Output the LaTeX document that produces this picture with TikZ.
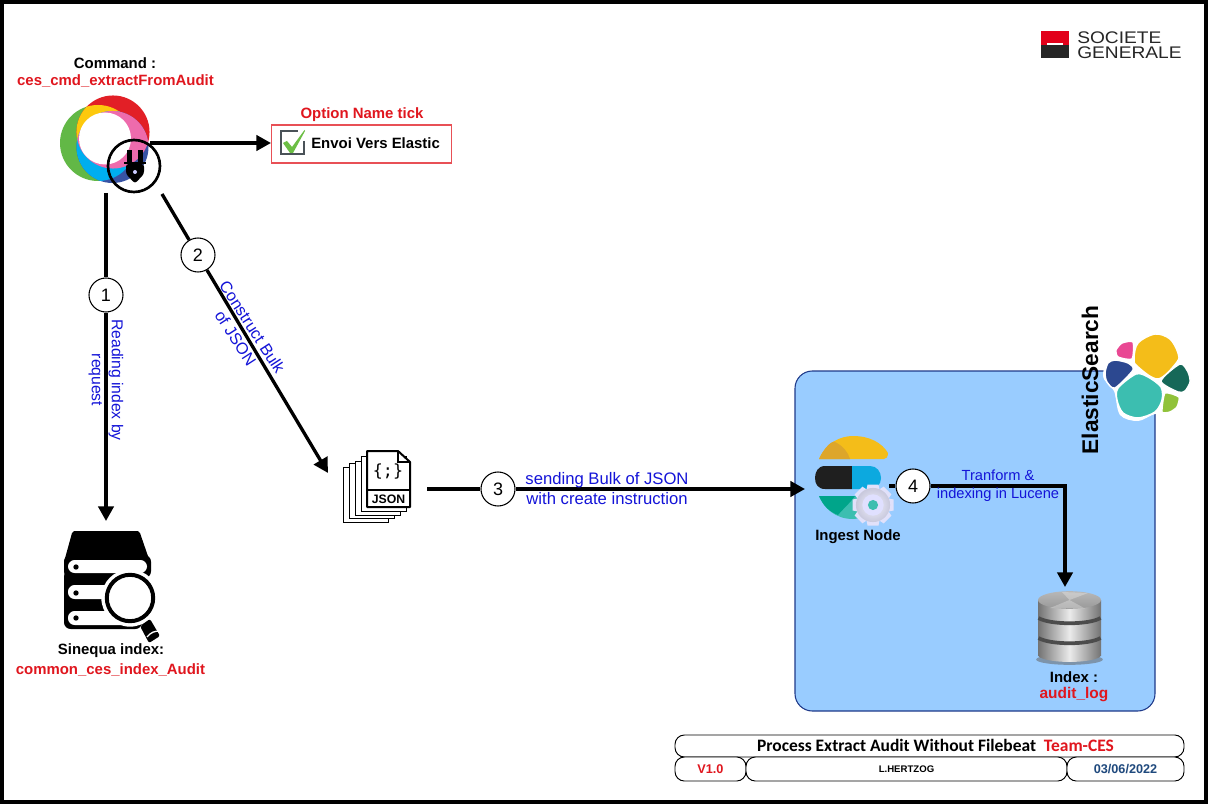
\documentclass[tikz,border=0pt]{standalone}
\usepackage{fontspec}
\setmainfont{Liberation Sans}
\newfontfamily\carlito{Carlito}
\newfontfamily\dejamono{DejaVu Sans Mono}
\usetikzlibrary{arrows.meta,calc}
\definecolor{lblblue}{HTML}{1414D8}
\definecolor{sgred}{HTML}{E2001A}
\definecolor{txtred}{HTML}{E0161E}
\definecolor{boxblue}{HTML}{99CCFF}
\definecolor{boxedge}{HTML}{1F3A8A}
\definecolor{datecol}{HTML}{1F497D}
\definecolor{rgreen}{HTML}{62B846}\definecolor{rred}{HTML}{E21F26}\definecolor{rblue}{HTML}{3853A4}
\definecolor{ryellow}{HTML}{FDC90D}\definecolor{rcyan}{HTML}{00AEEF}\definecolor{rpink}{HTML}{EE6BAC}
\definecolor{igold}{HTML}{F4BD19}\definecolor{igolddk}{HTML}{DDA62A}
\definecolor{icyan}{HTML}{0CA9DF}\definecolor{iteal}{HTML}{00A58A}\definecolor{itealb}{HTML}{3CBEB0}
\definecolor{esblue}{HTML}{2C4890}\definecolor{espink}{HTML}{E94893}\definecolor{esgreen}{HTML}{166858}\definecolor{eslime}{HTML}{90C23A}
\definecolor{tickgray}{HTML}{4A5258}\definecolor{tickgreen}{HTML}{6CBE45}
\tikzset{
  x=0.75pt,y=-0.75pt,
  flow/.style={line width=2.5pt,black},
  arrowflow/.style={flow,-{Triangle[length=11pt,width=11.5pt]}},
  numbered/.style={circle,draw=black,line width=0.8pt,fill=white,minimum size=25.5pt,inner sep=0pt,font=\fontsize{13.5}{15}\selectfont},
  blacklbl/.style={font=\fontsize{11.2}{13}\selectfont\bfseries,text=black,inner sep=0pt},
  redlbl/.style={font=\fontsize{11.2}{13}\selectfont\bfseries,text=txtred,inner sep=0pt},
  bluelbl/.style={font=\fontsize{12.2}{15}\selectfont,text=lblblue,align=center,inner sep=0pt},
  cell/.style={draw=black,line width=0.7pt,rounded corners=7pt,fill=white},
  sheet/.style={draw=black,line width=0.7pt,fill=white},
  disc/.style={left color=black!55,right color=black!55,middle color=black!8},
  blob/.style={draw=white,line width=1.1pt},
  sgtext/.style={anchor=west,inner sep=0pt,xscale=1.14,transform shape,font=\fontsize{12.6}{14}\selectfont,text=black!85},
}
\begin{document}
\begin{tikzpicture}
\useasboundingbox (0,0) rectangle (1209,805);
\fill[white] (0,0) rectangle (1209,805);
\draw[black,line width=3pt] (2,2) rectangle (1206,802);

% Societe Generale logo
\fill[sgred] (1041,31) rectangle (1069,45);
\fill[black!85] (1041,45) rectangle (1069,58.5);
\fill[white] (1047,43.5) rectangle (1063,45.5);
\node[sgtext] (sgone) at (1077,37.5) {SOCIETE};
\node[sgtext] (sgtwo) at (1077,52.5) {GENERALE};

% Command logo (rings)
\fill[rgreen] (98,143) circle[radius=28.5pt];
\fill[rred] (113,132) circle[radius=27.4pt];
\fill[rblue] (112.5,147) circle[radius=27pt];
\begin{scope}\clip (98,143) circle[radius=28.5pt];\fill[ryellow] (113,132) circle[radius=27.4pt];\fill[rcyan] (112.5,147) circle[radius=27pt];\end{scope}
\begin{scope}\clip (113,132) circle[radius=27.4pt];\fill[rpink] (112.5,147) circle[radius=27pt];\end{scope}
\fill[white] (105,138.5) circle[radius=19.5pt];
\node[circle,draw=black,line width=2pt,minimum size=39pt,inner sep=0pt] (plug) at (134,166) {};
% plug glyph
\fill[black] (127,150) rectangle (132,163);
\fill[black] (137.5,150) rectangle (143,163);
\fill[black] (124,162) rectangle (146,164.5);
\fill[black,rounded corners=2pt] (126,164) -- (144,164) -- (144,174) -- (135,183.5) -- (126,174) -- cycle;
\fill[white!80!blue] (135,172) circle[radius=1.5pt];

\node[blacklbl] (cmdone) at (115,63) {Command :};
\node[redlbl] (cmdtwo) at (115.5,81) {ces\_cmd\_extractFromAudit};

% Option box
\node[redlbl] (opttitle) at (362,115) {Option Name tick};
\node[draw=txtred!75,line width=0.8pt,fill=white,minimum width=135pt,minimum height=28.5pt,inner sep=0pt] (optbox) at (361.5,144) {};
\node[blacklbl,anchor=west] (optlbl) at (311,143) {Envoi Vers Elastic};
\draw[tickgray,line width=2pt] (304,141) -- (304,154) -- (281,154) -- (281,131) -- (298,131);
\fill[tickgreen] (283,143) -- (287,141) -- (292,147) -- (304.5,130) -- (305,131) -- (293,153) -- (290,153) -- cycle;

% Sinequa index icon
\fill[black] (72,533) -- ++(2,-2) -- (138,531) -- ++(2,2) -- (150,562) -- (64,562) -- cycle;
\fill[black,rounded corners=5pt] (64,555) rectangle (151,578);
\fill[black,rounded corners=5pt] (64,570) rectangle (125,620);
\fill[black,rounded corners=5pt] (64,600) rectangle (142,629);
\fill[white,rounded corners=5pt] (68,560) rectangle (147,573);
\fill[white,rounded corners=5pt] (68,585) rectangle (118,599);
\fill[white,rounded corners=5pt] (68,611) rectangle (135,625);
\fill[black] (76,567) circle[radius=2pt];
\fill[black] (76,593) circle[radius=2pt];
\fill[black] (76,618) circle[radius=2pt];
\fill[white] (130,598) circle[radius=21.5pt];
\draw[black,line width=3pt] (130,598) circle[radius=17.4pt];
\fill[black,rounded corners=1.5pt] (140,626) -- (150,619) -- (160,636) -- (149,643) -- cycle;
\draw[white,line width=1pt] (147,637) .. controls (151,632) and (155,631) .. (160,631);
\node[blacklbl] (sinone) at (111,651) {Sinequa index:};
\node[redlbl] (sintwo) at (110.5,670) {common\_ces\_index\_Audit};

% JSON stack
\draw[sheet] (343,467) rectangle (388,522);
\draw[sheet] (349,463) rectangle (394,518);
\draw[sheet] (355,461) rectangle (400,515);
\draw[sheet] (361,456) rectangle (406,511);
\draw[black,line width=1.5pt,fill=white,line join=round] (367,451) -- (398,451) -- (410,462) -- (410,507) -- (367,507) -- cycle;
\draw[black,line width=1.1pt] (398,451) -- (398,462) -- (410,462);
\draw[black,line width=1.5pt] (367,490) -- (410,490);
\node[inner sep=0pt,font=\dejamono\fontsize{12.5}{14}\selectfont] (jsonbraces) at (388,472) {\{;\}};
\node[inner sep=0pt,font=\fontsize{9.2}{10}\selectfont\bfseries] (jsonlbl) at (388.5,499) {JSON};

% Elastic box
\node[draw=boxedge,line width=0.8pt,fill=boxblue,rounded corners=13pt,minimum width=270pt,minimum height=255pt,inner sep=0pt] (esbox) at (975,541) {};

% ES logo
\fill[white] plot[smooth cycle,tension=0.55] coordinates {(1155,332) (1172,337) (1180,353) (1192,382) (1180,395) (1172,414) (1155,414) (1138,421) (1120,415) (1114,391) (1103,375) (1114,342) (1134,340)};
\path[blob,fill=igold] plot[smooth cycle,tension=0.55] coordinates {(1155,334) (1170,339) (1178,353) (1177,362) (1158,379) (1137,366) (1134,358) (1138,343)};
\path[blob,fill=itealb] plot[smooth cycle,tension=0.5] coordinates {(1136,374) (1148,377) (1161,387) (1162,400) (1155,412) (1138,418) (1123,413) (1117,400) (1118,388)};
\path[blob,fill=esblue] plot[smooth cycle,tension=0.45] coordinates {(1115,360) (1128,363) (1133,370) (1115,388) (1107,382) (1105,373) (1108,363)};
\path[blob,fill=espink] plot[smooth cycle,tension=0.4] coordinates {(1133,342) (1132,359) (1118,357) (1116,350) (1122,343)};
\path[blob,fill=esgreen] plot[smooth cycle,tension=0.45] coordinates {(1180,364) (1188,372) (1190,382) (1185,391) (1178,392) (1161,381)};
\path[blob,fill=eslime] plot[smooth cycle,tension=0.35] coordinates {(1165,393) (1179,397) (1177,407) (1170,412) (1162,412)};
\node[inner sep=0pt,rotate=90,font=\fontsize{17}{18}\selectfont\bfseries] (estitle) at (1090,380) {ElasticSearch};

% Ingest logo
\fill[igold] (819,459) .. controls (826,443) and (840,436) .. (853,436) .. controls (870,436) and (882,443) .. (888,453) .. controls (888,457) and (886,459) .. (884,459) -- cycle;
\fill[igolddk] (819,459) .. controls (824,448) and (832,440) .. (835,442) .. controls (843,446) and (848,452) .. (850,459) -- cycle;
\fill[black!88] (852,466) -- (825,466) .. controls (818,466) and (815,472) .. (815,478) .. controls (815,484) and (818,489) .. (825,489) -- (852,489) -- cycle;
\fill[icyan] (852,466) -- (870,466) .. controls (877,466) and (881,472) .. (881,478) .. controls (881,484) and (877,489) .. (870,489) -- (852,489) -- cycle;
\fill[itealb] (819,496) -- (880,496) .. controls (875,510) and (865,519) .. (853,519) .. controls (835,519) and (824,508) .. (819,496) -- cycle;
\fill[iteal] (819,496) -- (855,496) .. controls (850,503) and (842,510) .. (838,515) .. controls (828,511) and (823,505) .. (819,496) -- cycle;
% gear
\foreach \a in {0,45,...,315}{\fill[gray!30!blue!14!white,rotate around={\a:(873,505)}] (867.5,484.5) -- (878.5,484.5) -- (880,492) -- (866,492) -- cycle;}
\shade[inner color=white!95!blue,outer color=blue!22!gray!35!white] (873,505) circle[radius=12.8pt];
\fill[white!88!blue] (873,505) circle[radius=8pt];
\fill[itealb] (873,505) circle[radius=3.8pt];
\node[blacklbl] (ingest) at (858,537) {Ingest Node};

% DB cylinder
\fill[black!60,opacity=0.55] (1069.5,659.5) ellipse [x radius=25pt,y radius=4pt];
\shade[disc] (1038,600) rectangle (1101,655);
\shade[disc] (1069.5,655) ellipse [x radius=23.6pt,y radius=5.2pt];
\draw[black!70,line width=2.8pt] (1038.5,618) .. controls (1050,625) and (1089,625) .. (1100.5,618);
\draw[black!70,line width=2.8pt] (1038.5,638) .. controls (1050,645) and (1089,645) .. (1100.5,638);
\shade[top color=black!28,bottom color=black!40] (1069.5,600) ellipse [x radius=23.6pt,y radius=6.6pt];
\fill[white,opacity=0.28] (1069.5,600) -- (1050,608) -- (1085,608.5) -- cycle;
\fill[white,opacity=0.28] (1069.5,600) -- (1062,592) -- (1088,593) -- cycle;
\node[blacklbl] (dbone) at (1074,677) {Index :};
\node[redlbl,font=\fontsize{11.6}{13}\selectfont\bfseries] (dbtwo) at (1074,695) {audit\_log};

% Named connector ends
\coordinate (cmdright) at (150,143);
\coordinate (cmdstemA) at (106,193);
\coordinate (cmdstemB) at (162,194);
\coordinate (sineq) at (106,521);
\coordinate (jsonin) at (328,473);
\coordinate (jsonout) at (427,489);
\coordinate (ingestin) at (805,489);
\coordinate (ingestout) at (889,486);
\coordinate (dbtop) at (1065,587);
\coordinate (opttarget) at (271,143);

\node[numbered] (n1) at (106,295) {1};
\node[numbered] (n2) at (198,255) {2};
\node[numbered] (n3) at (498,489) {3};
\node[numbered] (n4) at (913,486) {4};

\draw[arrowflow] (cmdright) -- (opttarget);
\draw[flow] (cmdstemA) -- (n1);
\draw[arrowflow] (n1) -- (sineq);
\draw[flow] (cmdstemB) -- (n2);
\draw[arrowflow] (n2) -- (jsonin);
\draw[flow] (jsonout) -- (n3);
\draw[arrowflow] (n3) -- (ingestin);
\draw[flow] (ingestout) -- (n4);
\draw[arrowflow] (n4) -| (dbtop);

% Connector labels
\node[bluelbl,rotate=-90,font=\fontsize{11.8}{15}\selectfont] (l1) at (106,380) {Reading index by\\request};
\node[bluelbl,rotate=-57] (l2) at (244,332.5) {Construct Bulk\\of JSON};
\node[bluelbl,font=\fontsize{12.5}{15}\selectfont] (l3) at (607,489) {sending Bulk of JSON\\with create instruction};
\node[bluelbl,font=\fontsize{11}{13.5}\selectfont] (l4) at (998,486) {Tranform \&\\indexing in Lucene};

% Title block
\node[cell,minimum width=381.75pt,minimum height=16.5pt,inner sep=0pt] (ttl) at (929.5,746) {};
\node[inner sep=0pt,font=\carlito\fontsize{13.1}{14}\selectfont\bfseries] (ttltext) at (935.5,745.5) {Process Extract Audit Without Filebeat\hspace{0.45em}\textcolor{txtred}{Team-CES}};
\node[cell,minimum width=53.25pt,minimum height=18pt,inner sep=0pt,font=\fontsize{9.5}{11}\selectfont\bfseries,text=txtred] (ver) at (710.5,769) {V1.0};
\node[cell,minimum width=240.75pt,minimum height=18pt,inner sep=0pt,font=\fontsize{7.2}{8}\selectfont\bfseries] (author) at (906.5,769) {L.HERTZOG};
\node[cell,minimum width=87.75pt,minimum height=18pt,inner sep=0pt,font=\fontsize{9.5}{11}\selectfont\bfseries,text=datecol] (date) at (1125.5,769) {03/06/2022};
\end{tikzpicture}
\end{document}
